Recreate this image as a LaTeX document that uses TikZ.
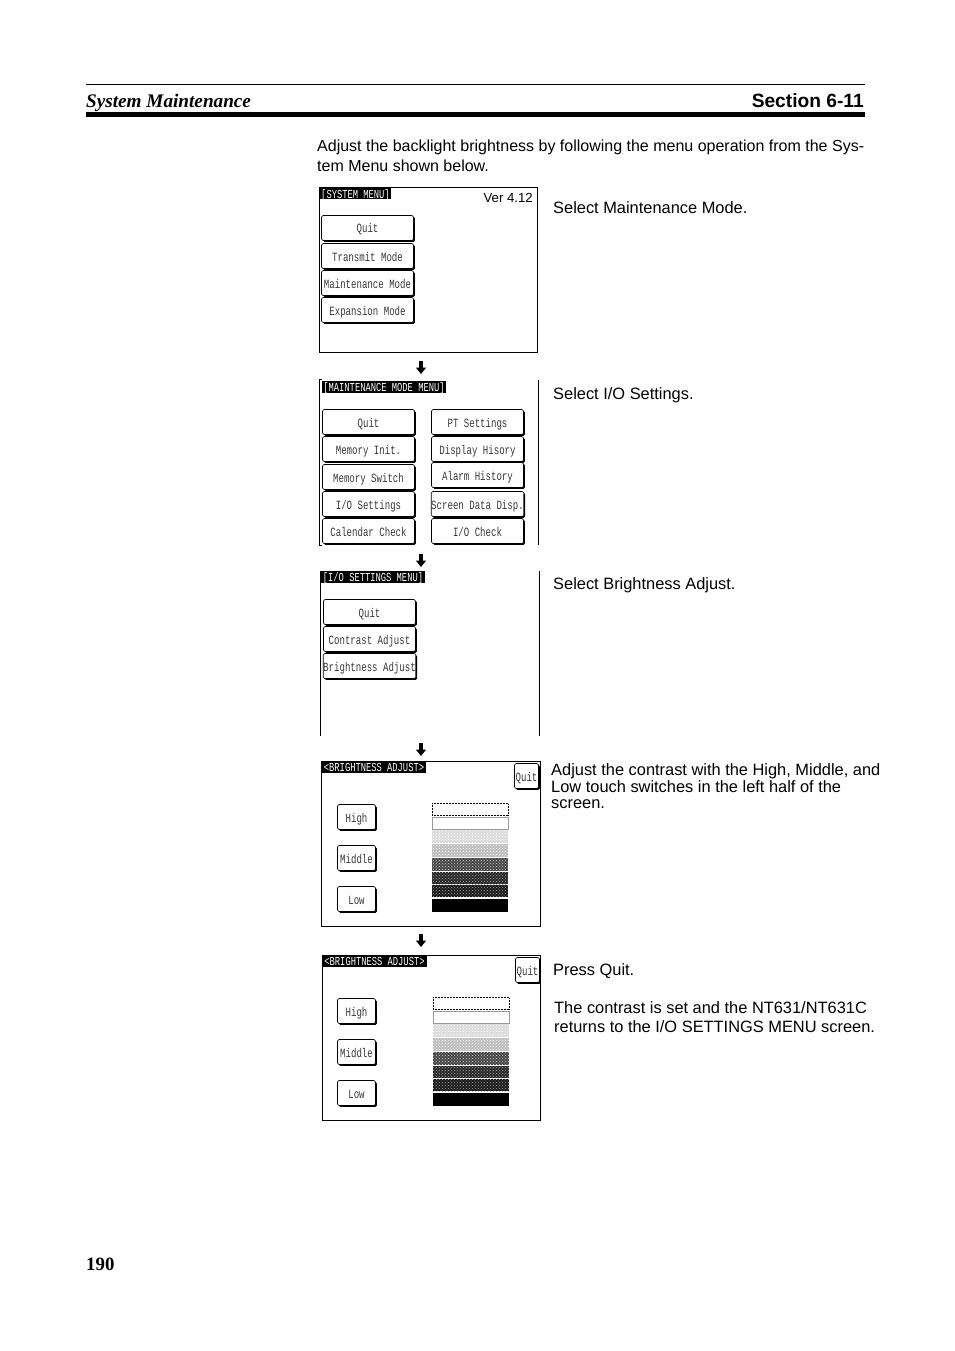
\documentclass[tikz,border=0pt]{standalone}
\usepackage{fontspec}
\setmainfont{Liberation Sans}
\newfontfamily\lcdfont[FakeStretch=0.72]{Liberation Mono}
\newfontfamily\headfont{Liberation Serif}
\usetikzlibrary{arrows.meta, shadows, patterns}

\begin{document}
\begin{tikzpicture}[x=1pt, y=-1pt]
\tikzstyle{screen} = [rectangle, inner sep=0pt, minimum width=218pt, minimum height=165pt]
\tikzstyle{framed} = [screen, draw, line width=0.7pt]
\tikzstyle{title} = [rectangle, fill=black, text=white, inner sep=0pt, minimum height=12pt, text height=10.5pt, text depth=1.5pt, font=\lcdfont\fontsize{12.2}{12}\selectfont]
\tikzstyle{button} = [rectangle, rounded corners=1.5pt, draw, fill=white, line width=0.6pt, inner sep=0pt, minimum width=92pt, minimum height=25pt, text height=11pt, text depth=1pt, text=black!78, font=\lcdfont\fontsize{12.6}{12}\selectfont, drop shadow={shadow xshift=1.4pt, shadow yshift=-1.4pt, opacity=1, fill=black}]
\tikzstyle{smallbutton} = [button, minimum width=38pt]
\tikzstyle{quitbutton} = [button, minimum width=24pt]
\tikzstyle{bar} = [rectangle, inner sep=0pt, minimum width=76pt, minimum height=12.6pt]
\tikzstyle{note} = [anchor=west, align=left, inner sep=0pt, font=\fontsize{16.4}{16.5}\selectfont]
\tikzstyle{arrow} = [line width=3.6pt, -{Triangle[width=10pt, length=6.5pt]}]

\useasboundingbox (0,0) rectangle (954,1351);

% page header
\coordinate (headl) at (86,84.5);
\coordinate (headr) at (865,84.5);
\coordinate (rulel) at (86,114.5);
\coordinate (ruler) at (865,114.5);
\draw [line width=0.6pt] (headl) -- (headr);
\draw [line width=4.6pt] (rulel) -- (ruler);
\node (chapter) [anchor=west, inner sep=0pt, font=\headfont\bfseries\itshape\fontsize{19.2}{20}\selectfont] at (86,102.5) {System Maintenance};
\node (section) [anchor=east, inner sep=0pt, font=\bfseries\fontsize{19.2}{20}\selectfont] at (864,101) {Section 6-11};
\node (page) [anchor=west, inner sep=0pt, font=\headfont\bfseries\fontsize{18.8}{20}\selectfont] at (86,1264) {190};

\node (intro) [note, font=\fontsize{16}{20.5}\selectfont] at (317,155.8) {Adjust the backlight brightness by following the menu operation from the Sys-\\tem Menu shown below.};

% system menu
\node (sysmenu) [framed] at (428.5,270) {};
\node (systitle) [title, minimum width=71pt] at (355.5,193.5) {[SYSTEM MENU]};
\node (version) [anchor=east, inner sep=0pt, font=\fontsize{13.2}{14}\selectfont] at (533,198) {Ver 4.12};
\node (sysquit) [button] at (367.5,228) {Quit};
\node (systrans) [button] at (367.5,256) {Transmit Mode};
\node (sysmaint) [button] at (367.5,283) {Maintenance Mode};
\node (sysexp) [button] at (367.5,310) {Expansion Mode};
\node (sysnote) [note] at (553,208) {Select Maintenance Mode.};

% maintenance mode menu
\node (maintmenu) [screen] at (429,462.5) {};
\draw [line width=0.7pt] ([xshift=2pt]maintmenu.north west) -- (maintmenu.north west) -- (maintmenu.south west) -- ([xshift=2pt]maintmenu.south west);
\draw [line width=0.7pt] (maintmenu.north east) -- (maintmenu.south east);
\node (mainttitle) [title, minimum width=124pt] at (384,386.5) {[MAINTENANCE MODE MENU]};
\foreach \name/\y/\txt in {mquit/422/Quit, minit/449/Memory Init., mswitch/477/Memory Switch, mio/504/{I/O Settings}, mcal/531/Calendar Check}
  \node (\name) [button] at (368.5,\y) {\txt};
\foreach \name/\y/\txt in {mpt/422/PT Settings, mdisp/449/Display Hisory, malarm/475/Alarm History, mdata/504/Screen Data Disp., mcheck/531/{I/O Check}}
  \node (\name) [button] at (477.5,\y) {\txt};
\node (maintnote) [note] at (553,395.5) {Select I/O Settings.};

% i/o settings menu
\node (iomenu) [screen, minimum width=219pt] at (430,653.5) {};
\draw [line width=0.7pt] (iomenu.north west) -- (iomenu.south west);
\draw [line width=0.7pt] (iomenu.north east) -- (iomenu.south east);
\node (iotitle) [title, minimum width=104pt] at (373,577) {[I/O SETTINGS MENU]};
\node (ioquit) [button] at (369.5,612) {Quit};
\node (iocontrast) [button] at (369.5,639) {Contrast Adjust};
\node (iobright) [button] at (369.5,666) {Brightness Adjust};
\node (ionote) [note] at (553,585.5) {Select Brightness Adjust.};

% brightness adjust, twice
\foreach \s/\dx/\dy/\scrw in {a/0/0/219, b/1/194/218} {
  \node (bright\s) [framed, minimum width=\scrw pt] at (431+\dx*0.5,844+\dy) {};
  \node (title\s) [title, minimum width=104pt] at (374+\dx*0.5,767+\dy) {<BRIGHTNESS ADJUST>};
  \node (quit\s) [quitbutton] at (526.5+\dx,776+\dy) {Quit};
  \node (high\s) [smallbutton] at (356.5,817+\dy) {High};
  \node (middle\s) [smallbutton] at (356.5,858+\dy) {Middle};
  \node (low\s) [smallbutton] at (356.5,899+\dy) {Low};
  \node (bara\s) [bar, draw, densely dotted, line width=0.5pt, minimum height=12pt] at (470+\dx,809.5+\dy) {};
  \node (barb\s) [bar, draw=black!40, line width=0.5pt, minimum height=12pt] at (470+\dx,823.5+\dy) {};
  \node (barc\s) [bar, fill=black!14, postaction={pattern=crosshatch dots, pattern color=white}] at (470+\dx,836.5+\dy) {};
  \node (bard\s) [bar, fill=black!26, postaction={pattern=crosshatch dots, pattern color=white}] at (470+\dx,850.5+\dy) {};
  \node (bare\s) [bar, fill=black!72, postaction={pattern=crosshatch dots, pattern color=black!20}] at (470+\dx,864.5+\dy) {};
  \node (barf\s) [bar, fill=black!85, postaction={pattern=crosshatch dots, pattern color=black!30}] at (470+\dx,878+\dy) {};
  \node (barg\s) [bar, fill=black!90, postaction={pattern=crosshatch dots, pattern color=black!35}] at (470+\dx,891+\dy) {};
  \node (barh\s) [bar, fill=black] at (470+\dx,905.5+\dy) {};
}
\node (brightnote) [note, anchor=north west] at (551,763.6) {Adjust the contrast with the High, Middle, and\\Low touch switches in the left half of the\\screen.};
\node (pressnote) [note] at (553,971) {Press Quit.};
\node (setnote) [note, font=\fontsize{16.4}{19}\selectfont] at (554,1017) {The contrast is set and the NT631/NT631C\\returns to the I/O SETTINGS MENU screen.};

% arrows between the screens
\foreach \n/\x/\y in {1/421/361, 2/421/554, 3/421/743, 4/421/934} {
  \coordinate (from\n) at (\x,\y);
  \coordinate (to\n) at (\x,\y+13);
  \draw [arrow] (from\n) -- (to\n);
}
\end{tikzpicture}
\end{document}
